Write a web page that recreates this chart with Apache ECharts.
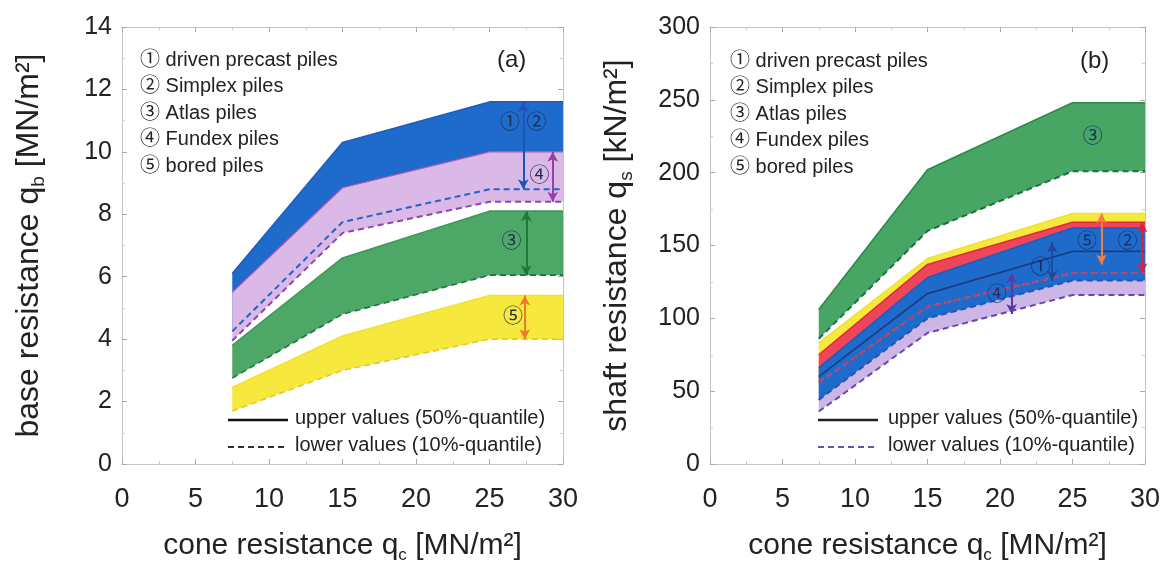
<!DOCTYPE html>
<html><head><meta charset="utf-8">
<script src="https://cdn.jsdelivr.net/npm/echarts@6/dist/echarts.min.js"></script>
<style>html,body{margin:0;padding:0;background:#fff}#c{width:1169px;height:562px}</style>
</head><body><div id="c"></div>
<script>
// cone resistance breakpoints (x)
const xs = [7.5, 15, 25, 30];

// (a) base resistance [MN/m²]
const aDrivenUpper = [6.1, 10.3, 11.6, 11.6];   // ① & ②
const aDrivenLower = [4.25, 7.75, 8.8, 8.8];
const aFundexUpper = [5.5, 8.85, 10.0, 10.0];   // ④
const aFundexLower = [3.95, 7.4, 8.4, 8.4];
const aAtlasUpper  = [3.8, 6.6, 8.1, 8.1];      // ③
const aAtlasLower  = [2.75, 4.8, 6.05, 6.05];
const aBoredUpper  = [2.45, 4.1, 5.4, 5.4];     // ⑤
const aBoredLower  = [1.7, 3.0, 4.0, 4.0];

// (b) shaft resistance [kN/m²]
const bAtlasUpper   = [106, 202, 248, 248];
const bAtlasLower   = [86, 160, 201, 201];
const bBoredUpper   = [83, 141, 172, 172];
const bBoredLower   = [56, 108, 131, 131];
const bSimplexUpper = [75, 137, 166, 166];
const bSimplexLower = [56, 108, 131, 131];
const bDrivenUpper  = [66, 128, 162, 162];
const bDrivenLower  = [44, 100, 126, 126];
const bFundexUpper  = [60, 117, 146, 146];
const bFundexLower  = [36, 90, 116, 116];

// tick settings
const xTicks = {min: 0, max: 30, interval: 5};
const aTicks = {min: 0, max: 14, interval: 2};
const bTicks = {min: 0, max: 300, interval: 50};

// legend texts
const pileNames = ['① driven precast piles', '② Simplex piles', '③ Atlas piles', '④ Fundex piles', '⑤ bored piles'];
const quantNames = ['upper values (50%-quantile)', 'lower values (10%-quantile)'];

// annotations: [x, y, text]
const aLabels = [[26.4, 10.9, '①'], [28.2, 10.9, '②'], [28.4, 9.2, '④'], [26.5, 7.1, '③'], [26.6, 4.7, '⑤']];
const bLabels = [[26.4, 224, '③'], [26.0, 152, '⑤'], [28.8, 152, '②'], [22.8, 134, '①'], [19.8, 116, '④']];
// arrows: [x, yFrom, yTo, colour]
const aArrows = [[27.3, 11.6, 8.8, '#1B55B8'], [29.3, 10.0, 8.4, '#9A3DA8'], [27.5, 8.1, 6.05, '#1F7A3A'], [27.4, 5.4, 4.0, '#F0782A']];
const bArrows = [[27.0, 172, 137, '#F0803A'], [29.8, 166, 131, '#E0203A'], [23.6, 152, 126, '#1B4A9A'], [20.8, 131, 103, '#5A3AA0']];

const FONT = 'Liberation Sans, Arial, Noto Sans CJK SC, sans-serif';
const NARROW = 'Liberation Sans Narrow, Liberation Sans, Arial, sans-serif';

function band(gi, lower, upper, color, z) {
  return {
    type: 'custom', xAxisIndex: gi * 2, yAxisIndex: gi * 2, z: z, silent: true,
    data: [[xs[0], lower[0]]],
    renderItem: function (params, api) {
      const pts = [];
      for (let i = 0; i < xs.length; i++) pts.push(api.coord([xs[i], upper[i]]));
      for (let i = xs.length - 1; i >= 0; i--) pts.push(api.coord([xs[i], lower[i]]));
      return {type: 'polygon', shape: {points: pts}, style: {fill: color}};
    }
  };
}
function line(gi, arr, color, dashed, width, z) {
  return {
    type: 'line', xAxisIndex: gi * 2, yAxisIndex: gi * 2, z: z || 10, silent: true,
    showSymbol: false, symbol: 'none',
    data: xs.map((x, i) => [x, arr[i]]),
    lineStyle: {color: color, width: width || 1.6, type: dashed ? [6, 4] : 'solid'}
  };
}
function arrows(gi, list) {
  return {
    type: 'line', xAxisIndex: gi * 2, yAxisIndex: gi * 2, z: 12, silent: true, data: [],
    markLine: {
      z: 20, silent: true, symbol: ['arrow', 'arrow'], symbolSize: [8, 10], animation: false,
      label: {show: false},
      data: list.map(a => [{coord: [a[0], a[1]], lineStyle: {color: a[3], width: 2, type: 'solid'}}, {coord: [a[0], a[2]]}])
    }
  };
}
function labels(gi, list, color) {
  return {
    type: 'custom', xAxisIndex: gi * 2, yAxisIndex: gi * 2, z: 25, silent: true,
    data: list.map(l => [l[0], l[1]]),
    renderItem: function (params, api) {
      const p = api.coord([api.value(0), api.value(1)]);
      return {type: 'text', z2: 100, x: p[0], y: p[1], style: {text: list[params.dataIndex][2], fill: color, font: '20px ' + FONT, align: 'center', verticalAlign: 'middle'}};
    }
  };
}

function xAx(gi, top) {
  return Object.assign({
    gridIndex: gi, type: 'value', position: top ? 'top' : 'bottom',
    axisLine: {show: true, onZero: false, lineStyle: {color: '#c4c4c4', width: 1}},
    axisTick: {show: true, inside: true, length: 5, lineStyle: {color: '#aaa'}},
    minorTick: {show: true, splitNumber: 2, length: 3, lineStyle: {color: '#ccc'}},
    splitLine: {show: false},
    axisLabel: top ? {show: false} : {show: true, fontFamily: NARROW, fontSize: 27, color: '#222', margin: 22},
    name: top ? '' : '{m|cone resistance q}{s|c}{m| [MN/m²]}',
    nameLocation: 'middle', nameGap: 64,
    nameTextStyle: {rich: {m: {fontFamily: NARROW, fontSize: 30, color: '#222', lineHeight: 36}, s: {fontFamily: NARROW, fontSize: 17, color: '#222', verticalAlign: 'bottom', lineHeight: 17}}}
  }, xTicks);
}
function yAx(gi, right, ticks, title) {
  return Object.assign({
    gridIndex: gi, type: 'value', position: right ? 'right' : 'left',
    axisLine: {show: true, onZero: false, lineStyle: {color: '#c4c4c4', width: 1}},
    axisTick: {show: true, inside: true, length: 5, lineStyle: {color: '#aaa'}},
    minorTick: {show: true, splitNumber: 2, length: 3, lineStyle: {color: '#ccc'}},
    splitLine: {show: false},
    axisLabel: right ? {show: false} : {show: true, fontFamily: FONT, fontSize: 25, color: '#222', margin: 10},
    name: right ? '' : title,
    nameLocation: 'middle', nameRotate: 90, nameGap: 74,
    nameTextStyle: {rich: {m: {fontFamily: FONT, fontSize: 32, color: '#222', lineHeight: 38}, s: {fontFamily: FONT, fontSize: 19, color: '#222', verticalAlign: 'bottom', lineHeight: 19}}}
  }, ticks);
}

const option = {
  animation: false,
  backgroundColor: '#fff',
  grid: [
    {left: 122, top: 27, width: 441, height: 437, containLabel: false, outerBoundsMode: 'none'},
    {left: 710, top: 27, width: 435, height: 437, containLabel: false, outerBoundsMode: 'none'}
  ],
  xAxis: [xAx(0, false), xAx(0, true), xAx(1, false), xAx(1, true)],
  yAxis: [
    yAx(0, false, aTicks, '{m|base resistance q}{s|b}{m| [MN/m²]}'),
    yAx(0, true, aTicks, ''),
    yAx(1, false, bTicks, '{m|shaft resistance q}{s|s}{m| [kN/m²]}'),
    yAx(1, true, bTicks, '')
  ],
  series: [
    // (a) fills
    band(0, aBoredLower, aBoredUpper, '#F7E83E', 1),
    band(0, aAtlasLower, aAtlasUpper, '#4DA767', 2),
    band(0, aDrivenLower, aDrivenUpper, '#1F6BCB', 3),
    band(0, aFundexLower, aFundexUpper, '#DAB9E6', 4),
    // (a) lines
    line(0, aBoredUpper, '#F2E12E', false),
    line(0, aBoredLower, '#E3C82A', true),
    line(0, aAtlasUpper, '#3E9A58', false),
    line(0, aAtlasLower, '#22723C', true),
    line(0, aDrivenUpper, '#1B5DC0', false),
    line(0, aDrivenLower, '#2462C6', true, 2),
    line(0, aFundexUpper, '#B556B8', false, 1.2),
    line(0, aFundexLower, '#8E45AE', true, 2),
    arrows(0, aArrows),
    labels(0, aLabels, '#203050'),
    // (b) fills
    band(1, bAtlasLower, bAtlasUpper, '#47A664', 1),
    band(1, bBoredLower, bBoredUpper, '#F7E83E', 2),
    band(1, bSimplexLower, bSimplexUpper, '#EE4658', 3),
    band(1, bFundexLower, bFundexUpper, '#CBB6E6', 4),
    band(1, bDrivenLower, bDrivenUpper, '#1F6BCB', 5),
    // (b) lines
    line(1, bAtlasUpper, '#2E8A4A', false),
    line(1, bAtlasLower, '#1F7038', true, 2),
    line(1, bBoredUpper, '#F2E12E', false),
    line(1, bBoredLower, '#E3C82A', true),
    line(1, bSimplexUpper, '#E2283E', false),
    line(1, bSimplexLower, '#C8336E', true, 2),
    line(1, bDrivenUpper, '#1B5DC0', false),
    line(1, bDrivenLower, '#1F55B8', true, 2),
    line(1, bFundexUpper, '#1D3C84', false, 1.8),
    line(1, bFundexLower, '#6A45B0', true, 2),
    arrows(1, bArrows),
    labels(1, bLabels, '#1A2E6A')
  ],
  graphic: []
};

// pile legends and panel tags
[[140, 62], [730, 63]].forEach(function (o, gi) {
  pileNames.forEach(function (t, i) {
    option.graphic.push({type: 'text', left: o[0], top: o[1] + i * 26.5 - 12, silent: true,
      style: {text: t, font: '20px ' + FONT, fill: '#222'}});
  });
  option.graphic.push({type: 'text', left: gi ? 1080 : 497, top: o[1] - 14, silent: true,
    style: {text: gi ? '(b)' : '(a)', font: '24px ' + FONT, fill: '#222'}});
});
// quantile legends
[[228, 295, '#111', '#333'], [818, 888, '#222', '#5A5AA8']].forEach(function (o) {
  option.graphic.push({type: 'line', silent: true, shape: {x1: o[0], y1: 420, x2: o[0] + 60, y2: 420}, style: {stroke: o[2], lineWidth: 2.5}});
  option.graphic.push({type: 'line', silent: true, shape: {x1: o[0], y1: 447, x2: o[0] + 60, y2: 447}, style: {stroke: o[3], lineWidth: 1.8, lineDash: [6, 4]}});
  option.graphic.push({type: 'text', silent: true, left: o[1], top: 408, style: {text: quantNames[0], font: '20px ' + FONT, fill: '#222'}});
  option.graphic.push({type: 'text', silent: true, left: o[1], top: 435, style: {text: quantNames[1], font: '20px ' + FONT, fill: '#222'}});
});

const chart = echarts.init(document.getElementById('c'));
chart.setOption(option);
</script>
</body></html>
